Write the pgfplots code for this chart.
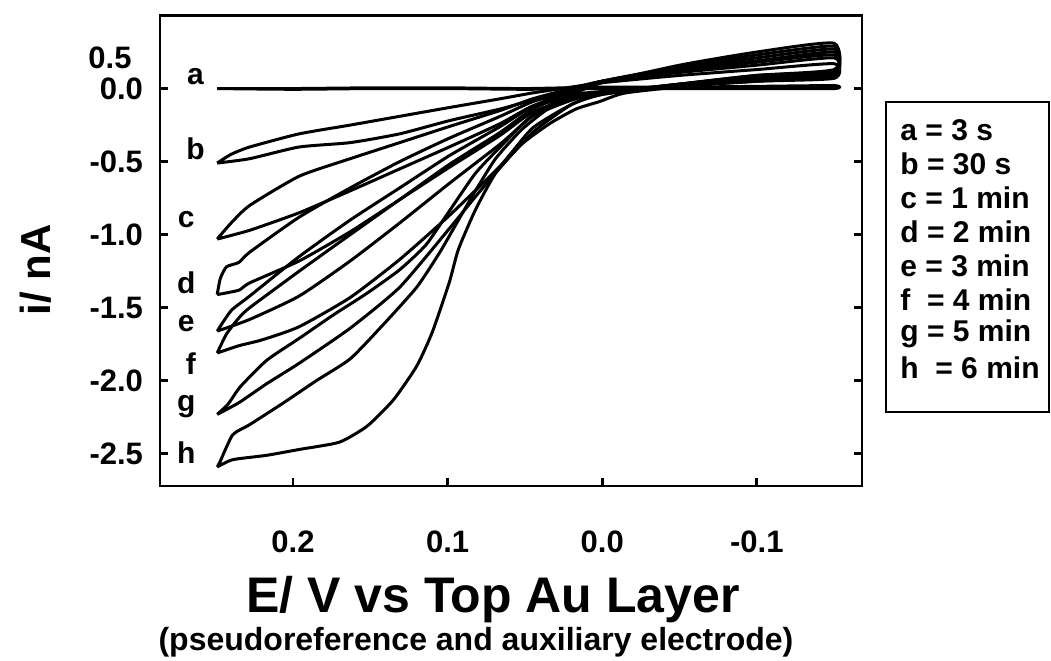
\documentclass[border=0pt]{standalone}
\usepackage{fontspec}
\setmainfont{Liberation Sans}
\usepackage{pgfplots}
\pgfplotsset{compat=1.18}
\begin{document}
\begin{tikzpicture}
\tikzset{cv/.style={black, line width=1.5pt, line join=round, smooth, tension=0.35}}
\begin{axis}[
  at={(80pt,87pt)}, anchor=south west,
  scale only axis, width=351pt, height=235.25pt,
  xmin=-0.168, xmax=0.286, ymin=-2.72, ymax=0.5,
  x dir=reverse,
  xtick={0.2,0.1,0,-0.1}, xticklabels={0.2,0.1,0.0,-0.1},
  ytick={-2.5,-2,-1.5,-1,-0.5,0}, yticklabels={-2.5,-2.0,-1.5,-1.0,-0.5,0.0},
  xtick pos=lower, ytick pos=both, tick align=inside,
  major tick length=4pt,
  axis line style={line width=1.4pt},
  every tick/.style={line width=1.4pt, black},
  tick label style={font=\fontsize{15.5}{18}\selectfont\bfseries},
  xticklabel style={yshift=-19pt},
  yticklabel style={xshift=-5pt},
  clip=false,
]
% a = 3 s
\addplot[cv] coordinates {(0.249,0.0) (0.20,0.0) (0.15,0.005) (0.10,0.005) (0.05,0.0) (0.0,0.01) (-0.05,0.01) (-0.10,0.015) (-0.15,0.02)
  (-0.15,0.0) (-0.10,0.0) (-0.05,0.0) (0.0,0.0) (0.05,-0.005) (0.10,0.0) (0.15,0.0) (0.20,-0.005) (0.249,0.0)};
% b = 30 s
\addplot[cv] coordinates {(0.249,-0.51) (0.228,-0.48) (0.196,-0.40) (0.163,-0.37) (0.131,-0.31) (0.099,-0.22) (0.066,-0.14) (0.045,-0.08) (0.02,-0.04) (0.0,-0.02) (-0.05,0.02) (-0.10,0.05) (-0.15,0.07)
  (-0.15,0.17) (-0.10,0.13) (-0.05,0.09) (0.0,0.04) (0.02,0.01) (0.045,-0.03) (0.066,-0.07) (0.099,-0.13) (0.131,-0.19) (0.163,-0.25) (0.196,-0.31) (0.228,-0.40) (0.240,-0.45) (0.249,-0.51)};
% c = 1 min
\addplot[cv] coordinates {(0.249,-1.03) (0.228,-0.97) (0.196,-0.85) (0.163,-0.70) (0.131,-0.55) (0.099,-0.40) (0.066,-0.24) (0.045,-0.12) (0.02,-0.06) (0.0,-0.03) (-0.05,0.02) (-0.10,0.06) (-0.15,0.09)
  (-0.15,0.21) (-0.10,0.16) (-0.05,0.11) (0.0,0.05) (0.02,0.0) (0.045,-0.07) (0.066,-0.15) (0.099,-0.26) (0.131,-0.37) (0.163,-0.48) (0.196,-0.60) (0.228,-0.80) (0.240,-0.92) (0.249,-1.03)};
% d = 2 min
\addplot[cv] coordinates {(0.249,-1.41) (0.235,-1.38) (0.228,-1.33) (0.196,-1.18) (0.163,-0.98) (0.131,-0.76) (0.099,-0.54) (0.066,-0.32) (0.045,-0.16) (0.02,-0.07) (0.0,-0.03) (-0.05,0.03) (-0.10,0.07) (-0.15,0.10)
  (-0.15,0.23) (-0.10,0.18) (-0.05,0.12) (0.0,0.05) (0.02,-0.01) (0.045,-0.09) (0.066,-0.19) (0.099,-0.34) (0.131,-0.50) (0.163,-0.68) (0.196,-0.88) (0.228,-1.12) (0.235,-1.19) (0.243,-1.22) (0.247,-1.30) (0.249,-1.41)};
% e = 3 min
\addplot[cv] coordinates {(0.249,-1.66) (0.228,-1.58) (0.196,-1.42) (0.163,-1.18) (0.131,-0.92) (0.099,-0.65) (0.066,-0.38) (0.045,-0.19) (0.02,-0.08) (0.0,-0.03) (-0.05,0.03) (-0.10,0.08) (-0.15,0.11)
  (-0.15,0.25) (-0.10,0.19) (-0.05,0.13) (0.0,0.05) (0.02,-0.02) (0.045,-0.12) (0.066,-0.26) (0.099,-0.46) (0.131,-0.68) (0.163,-0.90) (0.196,-1.15) (0.228,-1.42) (0.240,-1.52) (0.249,-1.66)};
% f = 4 min
\addplot[cv] coordinates {(0.249,-1.81) (0.235,-1.76) (0.22,-1.72) (0.196,-1.63) (0.163,-1.43) (0.131,-1.17) (0.099,-0.87) (0.066,-0.53) (0.045,-0.27) (0.02,-0.11) (0.0,-0.04) (-0.05,0.03) (-0.10,0.09) (-0.15,0.12)
  (-0.15,0.27) (-0.10,0.21) (-0.05,0.14) (0.0,0.05) (0.02,-0.03) (0.045,-0.14) (0.066,-0.30) (0.099,-0.52) (0.131,-0.76) (0.163,-1.00) (0.196,-1.25) (0.228,-1.50) (0.235,-1.57) (0.243,-1.68) (0.249,-1.81)};
% g = 5 min
\addplot[cv] coordinates {(0.249,-2.23) (0.235,-2.15) (0.217,-2.02) (0.196,-1.88) (0.163,-1.64) (0.131,-1.36) (0.099,-0.96) (0.082,-0.74) (0.066,-0.54) (0.045,-0.30) (0.02,-0.11) (0.0,-0.04) (-0.05,0.03) (-0.10,0.09) (-0.15,0.13)
  (-0.15,0.29) (-0.10,0.23) (-0.05,0.15) (0.0,0.05) (0.02,-0.04) (0.045,-0.18) (0.066,-0.40) (0.082,-0.58) (0.099,-0.84) (0.114,-1.07) (0.131,-1.24) (0.152,-1.40) (0.174,-1.55) (0.196,-1.71) (0.217,-1.86) (0.234,-2.04) (0.242,-2.16) (0.249,-2.23)};
% h = 6 min
\addplot[cv] coordinates {(0.249,-2.59) (0.239,-2.54) (0.217,-2.51) (0.196,-2.47) (0.170,-2.42) (0.152,-2.31) (0.135,-2.13) (0.120,-1.90) (0.110,-1.67) (0.099,-1.33) (0.093,-1.10) (0.082,-0.83) (0.069,-0.58) (0.052,-0.38) (0.034,-0.24) (0.017,-0.14) (0.002,-0.09) (-0.015,-0.03) (-0.058,0.02) (-0.10,0.05) (-0.15,0.09)
  (-0.15,0.31) (-0.10,0.25) (-0.05,0.16) (0.0,0.04) (0.017,-0.03) (0.034,-0.13) (0.052,-0.28) (0.069,-0.48) (0.082,-0.70) (0.093,-0.90) (0.105,-1.12) (0.120,-1.36) (0.142,-1.62) (0.163,-1.85) (0.185,-2.00) (0.206,-2.15) (0.228,-2.30) (0.239,-2.37) (0.247,-2.55) (0.249,-2.59)};

% curve letters
\begin{scope}[every node/.style={font=\fontsize{15}{17}\selectfont\bfseries}]
\node at (axis cs:0.263,0.08) {a};
\node at (axis cs:0.263,-0.41) {b};
\node at (axis cs:0.269,-0.90) {c};
\node at (axis cs:0.269,-1.33) {d};
\node at (axis cs:0.269,-1.61) {e};
\node at (axis cs:0.266,-1.88) {f};
\node at (axis cs:0.269,-2.18) {g};
\node at (axis cs:0.269,-2.49) {h};
\end{scope}
% 0.5 label
\node[anchor=east, xshift=-10.7pt, font=\fontsize{15.5}{18}\selectfont\bfseries] at (axis cs:0.286,0.21) {0.5};
\end{axis}

\node[rotate=90, font=\fontsize{21}{24}\selectfont\bfseries] at (18pt,195pt) {i/ nA};
\node[font=\fontsize{25}{30}\selectfont\bfseries] at (246.5pt,30pt) {E/ V vs Top Au Layer};
\node[font=\fontsize{16}{19}\selectfont\bfseries] at (238pt,9pt) {(pseudoreference and auxiliary electrode)};

% legend box
\draw[line width=1.3pt] (443pt,124pt) rectangle (524.5pt,279pt);
\begin{scope}[every node/.style={anchor=west, font=\fontsize{15}{17}\selectfont\bfseries, inner sep=0pt}]
\node at (450pt,265pt) {a = 3 s};
\node at (450pt,248pt) {b = 30 s};
\node at (450pt,231pt) {c = 1 min};
\node at (450pt,214pt) {d = 2 min};
\node at (450pt,197pt) {e = 3 min};
\node at (450pt,180pt) {f\ \ = 4 min};
\node at (450pt,163pt) {g = 5 min};
\node at (450pt,146pt) {h\ \ = 6 min};
\end{scope}

\pgfresetboundingbox
\useasboundingbox (0,0) rectangle (525.5pt,330pt);
\end{tikzpicture}
\end{document}
